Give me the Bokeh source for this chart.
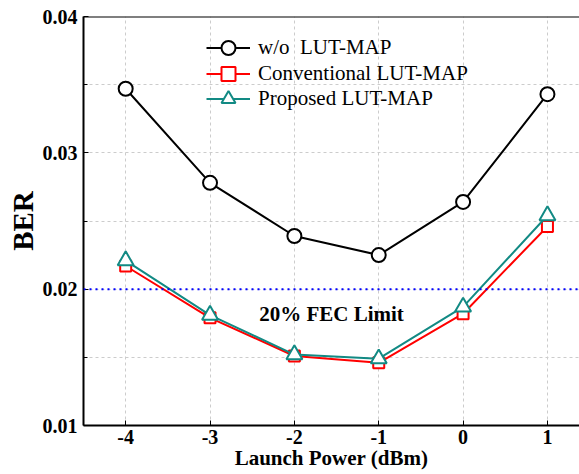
from bokeh.plotting import figure
from bokeh.models import FixedTicker, Legend, LegendItem, Span, Label, Range1d
from bokeh.embed import file_html
from bokeh.resources import INLINE

power = [-4, -3, -2, -1, 0, 1]
ber_wo = [0.0347, 0.0278, 0.0239, 0.0225, 0.0264, 0.0343]
ber_conv = [0.0217, 0.0179, 0.0151, 0.0146, 0.0182, 0.0246]
ber_prop = [0.0221, 0.0181, 0.0152, 0.0149, 0.0187, 0.0254]
labels = ["w/o  LUT-MAP", "Conventional LUT-MAP", "Proposed LUT-MAP"]
x_tick_labels = ["-4", "-3", "-2", "-1", "0", "1"]
fec_limit = 0.02
fec_text = "20% FEC Limit"
y_ticks = [0.01, 0.02, 0.03, 0.04]
y_minor = [0.015, 0.025, 0.035]

FONT = "Liberation Serif"

p = figure(width=579, height=474, output_backend="svg", toolbar_location=None,
           x_range=Range1d(-4.5, 1.38), y_range=Range1d(0.01, 0.04),
           min_border_left=83, min_border_right=0, min_border_top=16, min_border_bottom=49)
p.outline_line_color = None
p.background_fill_color = "white"

for ax in (p.xaxis[0], p.yaxis[0]):
    ax.axis_line_width = 2
    ax.axis_line_color = "black"
    ax.major_tick_in = 5
    ax.major_tick_out = 0
    ax.minor_tick_in = 0
    ax.minor_tick_out = 0
    ax.major_tick_line_width = 1
    ax.major_label_text_font = FONT
    ax.major_label_text_font_style = "bold"
    ax.major_label_text_font_size = "20px"
    ax.major_label_text_color = "black"
    ax.axis_label_text_font = FONT
    ax.axis_label_text_font_style = "bold"
    ax.axis_label_text_color = "black"

p.xaxis.ticker = FixedTicker(ticks=power)
p.xaxis.major_label_overrides = {t: s for t, s in zip(power, x_tick_labels)}
p.xaxis.axis_label = "Launch Power (dBm)"
p.xaxis.axis_label_text_font_size = "21px"
p.xaxis.major_label_standoff = 4
p.xaxis.axis_label_standoff = -1

p.yaxis.ticker = FixedTicker(ticks=y_ticks, minor_ticks=y_minor)
p.yaxis.major_label_overrides = {t: f"{t:.2f}" for t in y_ticks}
p.yaxis.axis_label = "BER"
p.yaxis.axis_label_text_font_size = "29px"
p.yaxis.major_label_standoff = 6
p.yaxis.axis_label_standoff = 1
p.yaxis.minor_tick_in = 4

for g in (p.xgrid[0], p.ygrid[0]):
    g.grid_line_color = "#cccccc"
    g.grid_line_dash = "3 3"
    g.grid_line_width = 1
p.ygrid.minor_grid_line_color = "#cccccc"
p.ygrid.minor_grid_line_dash = "3 3"

p.add_layout(Span(location=0.04, dimension="width", line_color="black", line_width=2))

p.add_layout(Span(location=fec_limit, dimension="width", line_color="blue",
                  line_width=2, line_dash="2 4"))
p.add_layout(Label(x=-1.56, y=0.0182, text=fec_text, text_align="center",
                   text_baseline="middle", text_font=FONT, text_font_style="bold",
                   text_font_size="21px", text_color="black"))

l1 = p.line(power, ber_wo, line_color="black", line_width=2)
m1 = p.scatter(power, ber_wo, marker="circle", size=14, line_color="black",
               line_width=2, fill_color="white")
l2 = p.line(power, ber_conv, line_color="red", line_width=2)
m2 = p.scatter(power, ber_conv, marker="square", size=11, line_color="red",
               line_width=2, fill_color="white")
l3 = p.line(power, ber_prop, line_color="#128a84", line_width=2)
m3 = p.scatter(power, ber_prop, marker="triangle", size=16, line_color="#128a84",
               line_width=2, fill_color="white")

series_renderers = [[l1, m1], [l2, m2], [l3, m3]]
legend_y = [360, 334, 309]
for lab, rends, ly in zip(labels, series_renderers, legend_y):
    lg = Legend(items=[LegendItem(label=lab, renderers=rends)],
                location=(123, ly), padding=0, margin=0, spacing=0,
                glyph_width=44, glyph_height=35, label_height=35,
                label_standoff=8, border_line_color=None,
                background_fill_alpha=0,
                label_text_font=FONT, label_text_font_size="21px",
                label_text_color="black", label_text_baseline="middle")
    p.add_layout(lg)

open("out.html", "w").write(file_html(p, INLINE))
